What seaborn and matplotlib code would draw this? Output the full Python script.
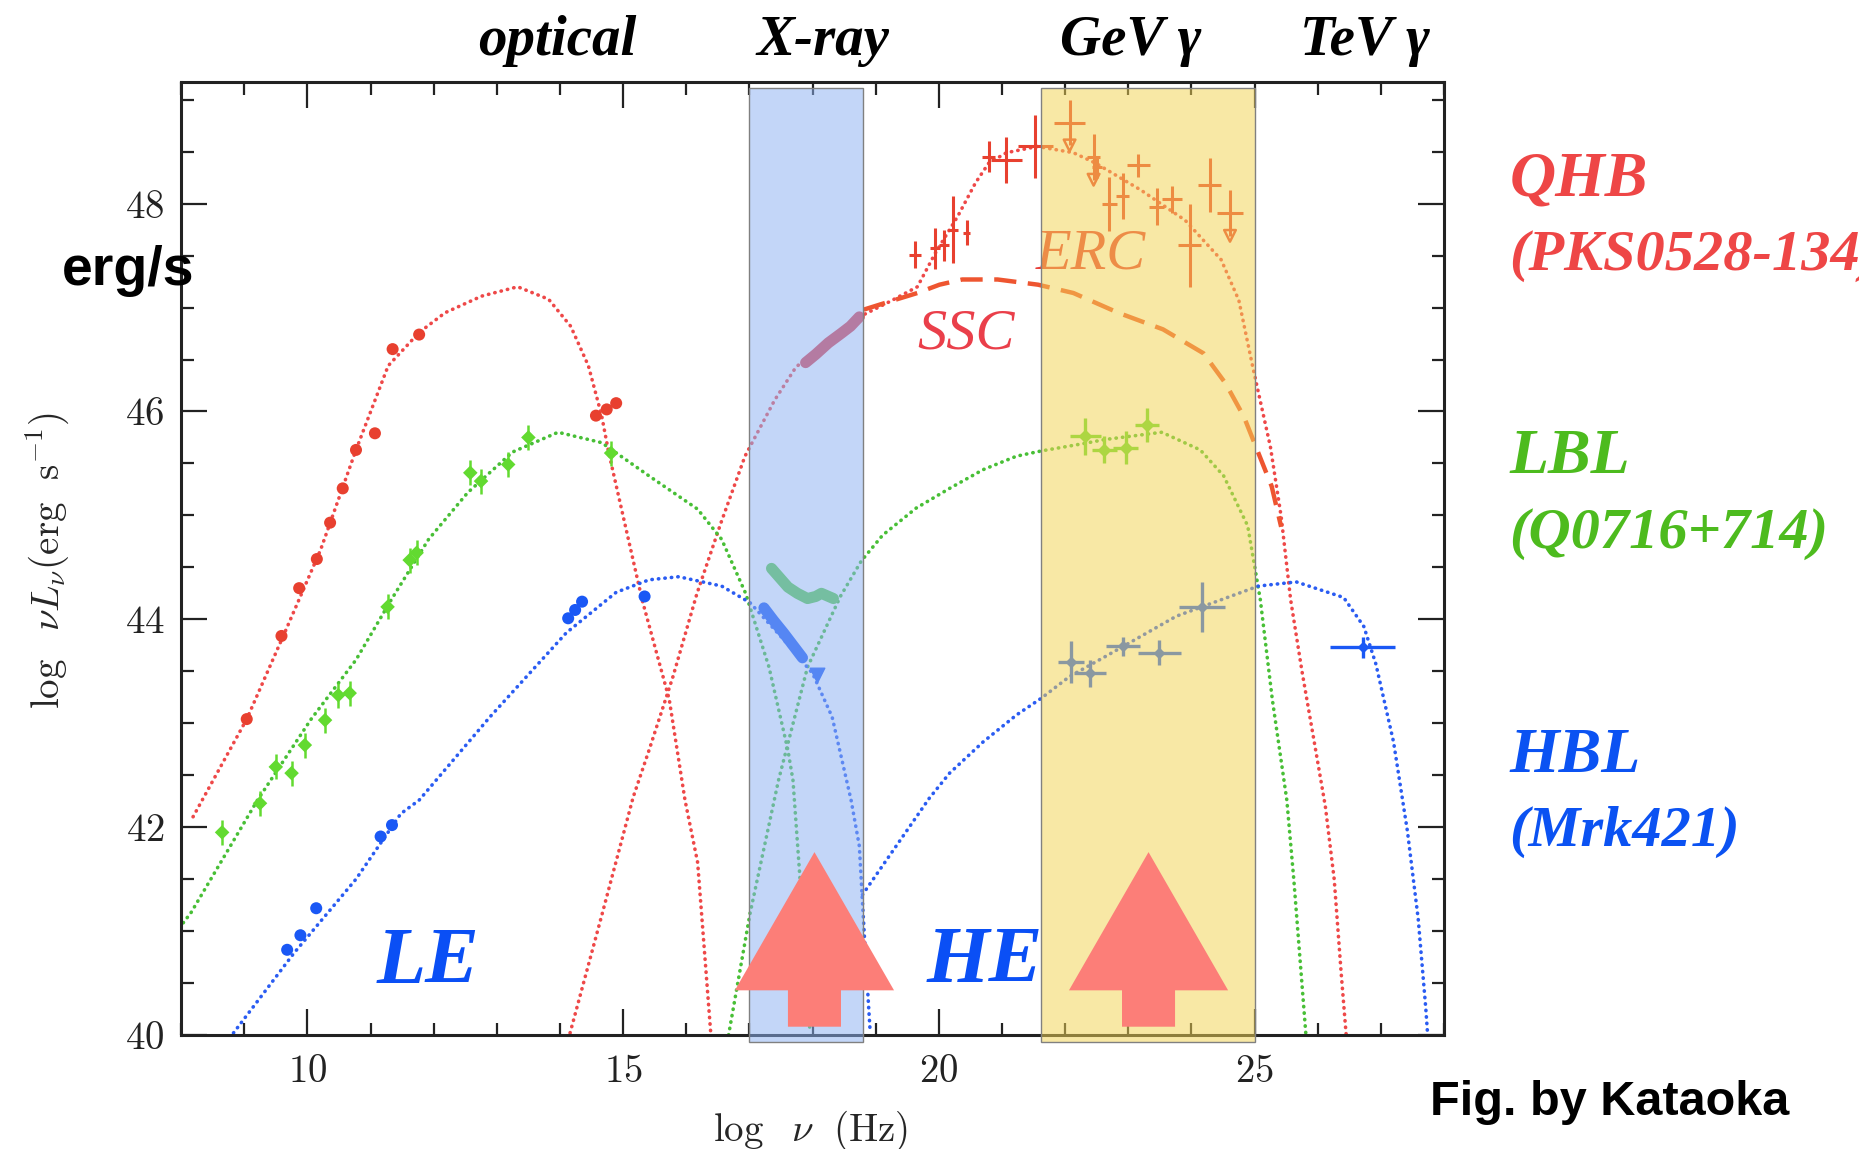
import seaborn as sns
import matplotlib.pyplot as plt
import numpy as np
import pandas as pd
from matplotlib.patches import Rectangle
from matplotlib.ticker import MultipleLocator

# ---- model curves: x = log nu (Hz), y = log nuLnu (erg/s) ----
qhb_sync_x = [8.19, 9.04, 9.64, 10.21, 10.77, 11.28, 11.77, 12.18, 12.76, 13.33, 13.82, 14.17,
              14.45, 14.66, 14.77, 15.30, 15.73, 15.98, 16.18, 16.39]
qhb_sync_y = [42.10, 43.04, 43.87, 44.67, 45.63, 46.44, 46.76, 46.95, 47.11, 47.20, 47.08, 46.82,
              46.44, 45.96, 45.61, 44.19, 43.23, 42.26, 41.66, 40.00]

qhb_erc_x = [14.16, 14.67, 15.16, 15.41, 15.79, 16.17, 16.55, 16.93, 17.40, 17.74, 18.25, 18.74,
             19.23, 19.66, 19.94, 20.30, 20.58, 20.79, 21.07, 21.56, 22.13, 22.48, 23.20, 23.90,
             24.47, 24.75, 24.97, 25.25, 25.42, 25.57, 25.75, 25.95, 26.12, 26.26, 26.37, 26.45]
qhb_erc_y = [40.02, 41.17, 42.29, 42.74, 43.45, 44.25, 44.93, 45.57, 46.11, 46.43, 46.66, 46.91,
             47.06, 47.20, 47.52, 47.88, 48.20, 48.39, 48.49, 48.55, 48.49, 48.39, 48.13, 47.84,
             47.46, 47.07, 46.43, 45.66, 44.99, 44.19, 43.50, 42.80, 42.20, 41.50, 40.60, 40.00]

qhb_ssc_x = [18.81, 19.23, 19.66, 20.01, 20.37, 20.93, 21.57, 22.13, 22.84, 23.55, 24.19, 24.54,
             24.83, 25.04, 25.27, 25.42]
qhb_ssc_y = [46.98, 47.06, 47.14, 47.22, 47.27, 47.27, 47.22, 47.14, 46.95, 46.79, 46.56, 46.27,
             45.95, 45.63, 45.28, 44.89]

lbl_sync_x = [7.91, 8.16, 9.21, 10.06, 10.77, 11.33, 11.92, 12.54, 13.25, 13.97, 14.66, 15.41,
              16.18, 16.56, 16.94, 17.31, 17.61, 17.69, 17.84, 17.96]
lbl_sync_y = [40.98, 41.18, 42.26, 43.04, 43.61, 44.19, 44.77, 45.22, 45.61, 45.80, 45.70, 45.38,
              45.06, 44.77, 44.25, 43.54, 42.74, 42.45, 41.17, 40.02]

lbl_ic_x = [16.67, 17.01, 17.46, 17.92, 18.44, 18.77, 19.11, 19.64, 20.17, 20.70, 21.23, 21.62,
            22.28, 22.63, 23.53, 24.14, 24.51, 24.89, 25.09, 25.28, 25.51, 25.62, 25.81]
lbl_ic_y = [40.00, 41.17, 42.45, 43.54, 44.22, 44.56, 44.81, 45.07, 45.26, 45.44, 45.57, 45.62,
            45.69, 45.73, 45.80, 45.63, 45.38, 44.90, 44.19, 43.23, 42.26, 41.50, 40.02]

hbl_sync_x = [8.83, 9.79, 10.77, 11.48, 11.77, 12.89, 14.10, 14.89, 15.41, 15.88, 16.56, 17.01,
              17.52, 18.00, 18.31, 18.61, 18.74, 18.83, 18.91]
hbl_sync_y = [40.02, 40.79, 41.50, 42.13, 42.26, 43.06, 43.87, 44.26, 44.38, 44.41, 44.32, 44.16,
              43.82, 43.48, 43.06, 42.26, 41.82, 40.85, 40.05]

hbl_ic_x = [18.79, 19.85, 20.17, 20.70, 21.23, 21.62, 22.07, 22.63, 23.76, 25.06, 25.66, 26.41,
            26.73, 26.92, 27.20, 27.42, 27.59, 27.71, 27.74]
hbl_ic_y = [41.35, 42.28, 42.52, 42.82, 43.08, 43.24, 43.45, 43.64, 44.03, 44.32, 44.36, 44.21,
            43.93, 43.57, 42.82, 41.96, 41.12, 40.26, 40.00]

# ---- observed points ----
qhb_pts_x = [9.04, 9.59, 9.87, 10.15, 10.36, 10.56, 10.77, 11.07, 11.35, 11.77, 14.57, 14.74, 14.89]
qhb_pts_y = [43.04, 43.84, 44.30, 44.58, 44.93, 45.26, 45.63, 45.79, 46.60, 46.74, 45.96, 46.02, 46.08]
qhb_xray_x = [17.89, 18.05, 18.25, 18.45, 18.60, 18.74]
qhb_xray_y = [46.47, 46.55, 46.66, 46.75, 46.82, 46.91]
qhb_hx_x = [19.62, 19.94, 20.08, 20.23, 20.44, 20.79, 21.07, 21.53]
qhb_hx_y = [47.51, 47.57, 47.60, 47.75, 47.72, 48.45, 48.42, 48.55]
qhb_hx_xerr = [0.10, 0.08, 0.08, 0.08, 0.06, 0.10, 0.25, 0.27]
qhb_hx_yerr = [0.13, 0.20, 0.15, 0.32, 0.12, 0.15, 0.22, 0.30]
qhb_gev_x = [22.50, 22.70, 22.91, 23.16, 23.45, 23.69, 23.97, 24.29]
qhb_gev_y = [48.35, 48.00, 48.07, 48.37, 47.97, 48.04, 47.60, 48.18]
qhb_gev_xerr = [0.08, 0.12, 0.10, 0.18, 0.12, 0.16, 0.18, 0.18]
qhb_gev_yerr = [0.10, 0.26, 0.22, 0.11, 0.18, 0.13, 0.40, 0.26]
qhb_ul_x = [22.07, 22.45, 24.61]
qhb_ul_y = [48.78, 48.45, 47.91]
qhb_ul_xerr = [0.25, 0.10, 0.21]

lbl_pts_x = [8.65, 9.25, 9.50, 9.75, 9.96, 10.28, 10.49, 10.67, 11.27, 11.62, 11.73, 12.58,
             12.75, 13.18, 13.50, 14.81]
lbl_pts_y = [41.95, 42.23, 42.58, 42.52, 42.79, 43.03, 43.27, 43.29, 44.12, 44.57, 44.64, 45.41,
             45.33, 45.49, 45.75, 45.60]
lbl_xray_x = [17.35, 17.48, 17.61, 17.76, 17.92, 18.05, 18.14, 18.33]
lbl_xray_y = [44.49, 44.40, 44.31, 44.25, 44.20, 44.22, 44.25, 44.20]
lbl_gev_x = [22.32, 22.62, 22.96, 23.30]
lbl_gev_y = [45.76, 45.63, 45.65, 45.87]
lbl_gev_xerr = [0.25, 0.20, 0.20, 0.19]
lbl_gev_yerr = [0.18, 0.13, 0.16, 0.16]

hbl_pts_x = [9.68, 9.89, 10.14, 11.16, 11.34, 14.13, 14.24, 14.35, 15.34]
hbl_pts_y = [40.82, 40.96, 41.22, 41.91, 42.02, 44.01, 44.09, 44.17, 44.22]
hbl_xray_x = [17.23, 17.38, 17.54, 17.69, 17.84]
hbl_xray_y = [44.11, 43.99, 43.87, 43.75, 43.63]
hbl_gev_x = [22.09, 22.39, 22.91, 23.49, 24.17, 26.71]
hbl_gev_y = [43.59, 43.48, 43.74, 43.68, 44.12, 43.73]
hbl_gev_xerr = [0.21, 0.25, 0.27, 0.34, 0.36, 0.52]
hbl_gev_yerr = [0.20, 0.13, 0.09, 0.12, 0.24, 0.10]

# bands and arrows
bands = [(17.0, 18.8), (21.62, 25.0)]
arrow_x = [18.03, 23.32]
top_labels = ['optical', 'X-ray', 'GeV \u03b3', 'TeV \u03b3']
top_label_x = [13.95, 18.16, 23.03, 26.75]

RED, RED_PT = '#ee4848', '#e8402f'
GREEN, GREEN_PT = '#48bf36', '#62da30'
BLUE, BLUE_PT = '#2a5cf2', '#1a58f5'
SERIF = ['Liberation Serif', 'DejaVu Serif']
NARROW = ['Liberation Sans Narrow', 'Liberation Sans', 'DejaVu Sans']

sns.set_theme(style='ticks')
plt.rcParams['font.family'] = ['cmr10', 'DejaVu Sans']
plt.rcParams['mathtext.fontset'] = 'cm'
plt.rcParams['axes.formatter.use_mathtext'] = True

fig = plt.figure(figsize=(18.59, 11.49), dpi=100)
ax = fig.add_axes([0.0974, 0.0992, 0.6794, 0.8294])

dots = (0, (0.1, 1.7))
line_kw = dict(sort=False, estimator=None, lw=2.6, linestyle=dots, dash_capstyle='round', ax=ax)
for xs, ys, c in [(qhb_sync_x, qhb_sync_y, RED), (qhb_erc_x, qhb_erc_y, RED),
                  (lbl_sync_x, lbl_sync_y, GREEN), (lbl_ic_x, lbl_ic_y, GREEN),
                  (hbl_sync_x, hbl_sync_y, BLUE), (hbl_ic_x, hbl_ic_y, BLUE)]:
    sns.lineplot(x=xs, y=ys, color=c, **line_kw)
sns.lineplot(x=qhb_ssc_x, y=qhb_ssc_y, color='#ee5530', lw=3.2, linestyle=(0, (5, 2.6)),
             sort=False, estimator=None, ax=ax)

# X-ray bowties drawn as thick strokes
for xs, ys, c in [(qhb_xray_x, qhb_xray_y, '#e0404c'), (lbl_xray_x, lbl_xray_y, '#5ccc48'),
                  (hbl_xray_x, hbl_xray_y, BLUE_PT)]:
    sns.lineplot(x=xs, y=ys, color=c, lw=8, solid_capstyle='round', sort=False,
                 estimator=None, ax=ax)

# low-energy photometric points
sns.scatterplot(x=qhb_pts_x, y=qhb_pts_y, color=RED_PT, s=75, edgecolor='none', ax=ax, zorder=3)
sns.scatterplot(x=lbl_pts_x, y=lbl_pts_y, color=GREEN_PT, s=55, marker='D', edgecolor='none',
                ax=ax, zorder=3)
ax.errorbar(lbl_pts_x, lbl_pts_y, yerr=0.12, fmt='none', ecolor=GREEN_PT, elinewidth=1.8, zorder=3)
sns.scatterplot(x=hbl_pts_x, y=hbl_pts_y, color=BLUE_PT, s=75, edgecolor='none', ax=ax, zorder=3)
ax.scatter([18.07], [43.46], marker='v', s=110, color=BLUE_PT, zorder=3)

# high-energy points with error bars
ax.errorbar(qhb_hx_x, qhb_hx_y, xerr=qhb_hx_xerr, yerr=qhb_hx_yerr, fmt='none',
            ecolor=RED_PT, elinewidth=2.2, zorder=3)
ax.errorbar(qhb_gev_x, qhb_gev_y, xerr=qhb_gev_xerr, yerr=qhb_gev_yerr, fmt='none',
            ecolor=RED_PT, elinewidth=2.2, zorder=3)
ax.errorbar(qhb_ul_x, qhb_ul_y, xerr=qhb_ul_xerr, yerr=0.22, fmt='none', ecolor=RED_PT,
            elinewidth=2.2, zorder=3)
sns.scatterplot(x=qhb_ul_x, y=[v - 0.22 for v in qhb_ul_y], marker='v', s=70,
                facecolor='none', edgecolor=RED_PT, linewidth=1.8, ax=ax, zorder=3)
ax.errorbar(lbl_gev_x, lbl_gev_y, xerr=lbl_gev_xerr, yerr=lbl_gev_yerr, fmt='D', ms=6,
            color=GREEN_PT, ecolor=GREEN_PT, elinewidth=2.4, zorder=3)
ax.errorbar(hbl_gev_x, hbl_gev_y, xerr=hbl_gev_xerr, yerr=hbl_gev_yerr, fmt='D', ms=5,
            color=BLUE_PT, ecolor=BLUE_PT, elinewidth=2.4, zorder=3)

# in-plot labels (placed beneath the shaded bands)
ax.text(20.43, 46.61, 'SSC', color='#ea3f4a', fontsize=42, style='italic', family=SERIF,
        ha='center', va='baseline', zorder=3)
ax.text(22.40, 47.38, 'ERC', color='#e8403a', fontsize=42, style='italic', family=SERIF,
        ha='center', va='baseline', zorder=3)
ax.text(11.91, 40.50, 'LE', color='#0a4ff5', fontsize=58, style='italic', weight='bold',
        family=SERIF, ha='center', va='baseline', zorder=3)
ax.text(20.72, 40.51, 'HE', color='#0a4ff5', fontsize=58, style='italic', weight='bold',
        family=SERIF, ha='center', va='baseline', zorder=3)

# shaded energy bands
band_colors = [(141 / 255, 178 / 255, 243 / 255, 0.52), (243 / 255, 211 / 255, 84 / 255, 0.52)]
for (x0, x1), fc in zip(bands, band_colors):
    ax.add_patch(Rectangle((x0, 39.93), x1 - x0, 9.18, facecolor=fc, edgecolor='#808080',
                           lw=1.0, clip_on=False, zorder=4))

for xa in arrow_x:
    ax.arrow(xa, 40.08, 0, 1.68, width=0.84, head_width=2.52, head_length=1.33,
             length_includes_head=True, color='#fc7e78', lw=0, zorder=6)

for lab, xl in zip(top_labels, top_label_x):
    ax.text(xl, 1.028, lab, transform=ax.get_xaxis_transform(), ha='center', va='baseline',
            fontsize=41, style='italic', weight='bold', family=SERIF, color='black')

# axes styling
ax.set_xlim(8, 28)
ax.set_ylim(40, 49.17)
ax.set_xticks([10, 15, 20, 25])
ax.set_yticks([40, 42, 44, 46, 48])
ax.xaxis.set_minor_locator(MultipleLocator(1))
ax.yaxis.set_minor_locator(MultipleLocator(0.5))
ax.tick_params(which='both', direction='in', top=True, right=True, colors='#222222')
ax.tick_params(which='major', length=19, width=1.6, labelsize=28)
ax.tick_params(which='minor', length=9, width=1.6)
ax.tick_params(axis='x', pad=14)
ax.tick_params(axis='y', pad=12)
for sp in ax.spines.values():
    sp.set_linewidth(2.2)
    sp.set_color('#222222')
ax.set_xlabel(r'$\log\ \ \nu\ \ (\mathrm{Hz})$', fontsize=28)
ax.set_ylabel(r'$\log\ \ \nu L_\nu(\mathrm{erg\ \ s^{-1}})$', fontsize=28)
ax.xaxis.set_label_coords(0.498, -0.077)
ax.yaxis.set_label_coords(-0.087, 0.498)

# source names on the right
fig.text(0.812, 0.830, 'QHB', color='#ee4646', fontsize=46, style='italic', weight='bold', family=SERIF)
fig.text(0.812, 0.765, '(PKS0528-134)', color='#ee4646', fontsize=42, style='italic', weight='bold', family=SERIF)
fig.text(0.812, 0.588, 'LBL', color='#4dbb1e', fontsize=46, style='italic', weight='bold', family=SERIF)
fig.text(0.812, 0.523, '(Q0716+714)', color='#4dbb1e', fontsize=42, style='italic', weight='bold', family=SERIF)
fig.text(0.812, 0.328, 'HBL', color='#0b52f2', fontsize=46, style='italic', weight='bold', family=SERIF)
fig.text(0.812, 0.264, '(Mrk421)', color='#0b52f2', fontsize=42, style='italic', weight='bold', family=SERIF)

fig.text(0.0334, 0.752, 'erg/s', fontsize=40, weight='bold', family=NARROW, color='black')
fig.text(0.769, 0.030, 'Fig. by Kataoka', fontsize=35, weight='bold', family=NARROW, color='black')

fig.savefig('out.png', dpi=100)
